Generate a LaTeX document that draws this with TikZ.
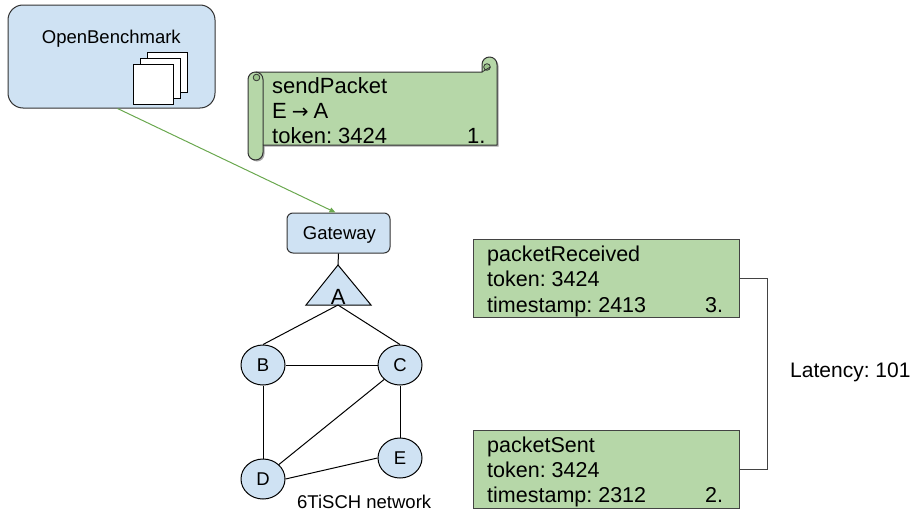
\documentclass[tikz,border=0pt]{standalone}
\usepackage{fontspec}
\setmainfont{Liberation Sans}
\newfontfamily\arrowfont{DejaVu Sans}
\usetikzlibrary{shapes.geometric,arrows.meta}
\frenchspacing
\definecolor{blueF}{HTML}{CFE2F3}
\definecolor{greenF}{HTML}{B6D7A8}
\definecolor{greenD}{HTML}{9CC48C}
\definecolor{arrowG}{HTML}{6AA84F}
\definecolor{frameC}{HTML}{333333}
\definecolor{boxC}{HTML}{434343}
\tikzset{
  fs/.style={font=\fontsize{18.5}{22}\selectfont},
  fm/.style={font=\fontsize{21.5}{25}\selectfont},
  fl/.style={font=\fontsize{22}{26}\selectfont},
  txt/.style={anchor=base west, inner sep=0pt, text=black},
  obbox/.style={draw=frameC, fill=blueF, line width=1pt, rounded corners=15pt, minimum width=207pt, minimum height=103pt, inner sep=0pt},
  sqbox/.style={draw=black, fill=white, line width=1pt, minimum width=40pt, minimum height=40pt, inner sep=0pt},
  gwbox/.style={draw=frameC, fill=blueF, line width=1pt, rounded corners=6pt, minimum width=103pt, minimum height=40pt, inner sep=0pt},
  mote/.style={ellipse, draw=black, fill=blueF, line width=1pt, minimum width=44pt, minimum height=40pt, inner sep=0pt, fs},
  logbox/.style={draw=boxC, fill=greenF, line width=1pt, minimum width=266pt, minimum height=78pt, inner sep=0pt},
  link/.style={draw=black, line width=1pt},
  conn/.style={draw=boxC, line width=1pt},
  garrow/.style={draw=arrowG, line width=1pt, -{Triangle[length=6pt,width=5pt]}},
  scrollln/.style={draw=frameC, line width=1pt, line join=round},
}
\begin{document}
\begin{tikzpicture}[x=1pt,y=1pt]
\useasboundingbox (0,0) rectangle (912,-514);

% OpenBenchmark
\node[obbox] (ob) at (111.5,-56.5) {};
\node[txt,fs] (obt) at (41.7,-43) {OpenBenchmark};
\node[sqbox] (sq1) at (167,-72) {};
\node[sqbox] (sq2) at (160,-78.5) {};
\node[sqbox] (sq3) at (153.5,-84.5) {};

% scroll (sendPacket)
\def\scrollpath{(255.5,-72) -- (482,-72) -- (482,-64.5) arc[start angle=180,end angle=0,radius=7.5] -- (497,-145) -- (263,-145) -- (263,-152.5) arc[start angle=0,end angle=-180,radius=7.5] -- (248,-79.5) arc[start angle=180,end angle=90,radius=7.5] -- cycle}
\fill[black!35,shift={(1.5,-1.5)}] \scrollpath;
\filldraw[scrollln, fill=greenF] \scrollpath;
\draw[scrollln] (263,-145) -- (263,-79.5) arc[start angle=0,end angle=90,radius=7.5];
\filldraw[scrollln, fill=greenD, line width=0.8pt] (256.5,-77.5) circle[radius=3.3];
\filldraw[scrollln, fill=greenD, line width=0.8pt] (487,-67) circle[radius=3.3];
\draw[scrollln, line width=0.8pt] (482,-72) -- (490.3,-67);
\node[txt,fl] (s1) at (272,-93) {sendPacket};
\node[txt,fl] (s2) at (272,-118) {E\hspace{5pt}{\arrowfont\fontsize{20}{22}\selectfont →}\hspace{5pt}A};
\node[txt,fl] (s3) at (272,-143) {token: 3424};
\node[txt,fl] (s4) at (467,-143) {1.};

% gateway and network
\node[gwbox] (gw) at (338.5,-233) {};
\node[txt,fs] (gwt) at (302.7,-239.5) {Gateway};
\draw[garrow] ([xshift=6pt]ob.south) -- ([xshift=-3pt]gw.north);

\coordinate (Aapex) at (338,-265);
\coordinate (Abase) at (338,-305);
\filldraw[link, fill=blueF, line join=miter] (306,-305) -- (Aapex) -- (371,-305) -- cycle;
\node[txt,font=\fontsize{22}{26}\selectfont] (A) at (330.7,-304) {A};
\draw[link] (gw.south) -- (Aapex);

\node[mote] (B) at (263,-365) {B};
\node[mote] (C) at (400,-365) {C};
\node[mote] (D) at (263,-479) {D};
\node[mote] (E) at (400,-458) {E};

\draw[link] (Abase) -- (B.north);
\draw[link] (Abase) -- (C.north);
\draw[link] (B.east) -- (C.west);
\draw[link] (B.south) -- (D.north);
\draw[link] (C.south) -- (E.north);
\draw[link] (C.south west) -- (D.north east);
\draw[link] (D.east) -- (E.west);
\node[txt,fs] (net) at (297,-508) {6TiSCH network};

% log boxes
\node[logbox] (rcv) at (606,-278) {};
\node[txt,fm] (r1) at (487,-261) {packetReceived};
\node[txt,fm] (r2) at (487,-286.5) {token: 3424};
\node[txt,fm] (r3) at (487,-312) {timestamp: 2413};
\node[txt,fm] (r4) at (705,-312) {3.};

\node[logbox] (snt) at (606,-469) {};
\node[txt,fm] (p1) at (487,-452) {packetSent};
\node[txt,fm] (p2) at (487,-477) {token: 3424};
\node[txt,fm] (p3) at (487,-502) {timestamp: 2312};
\node[txt,fm] (p4) at (705,-502) {2.};

\draw[conn] (rcv.east) -- ++(28,0) |- (snt.east);
\node[txt,font=\fontsize{21}{25}\selectfont] (lat) at (790,-377) {Latency: 101};
\end{tikzpicture}
\end{document}
